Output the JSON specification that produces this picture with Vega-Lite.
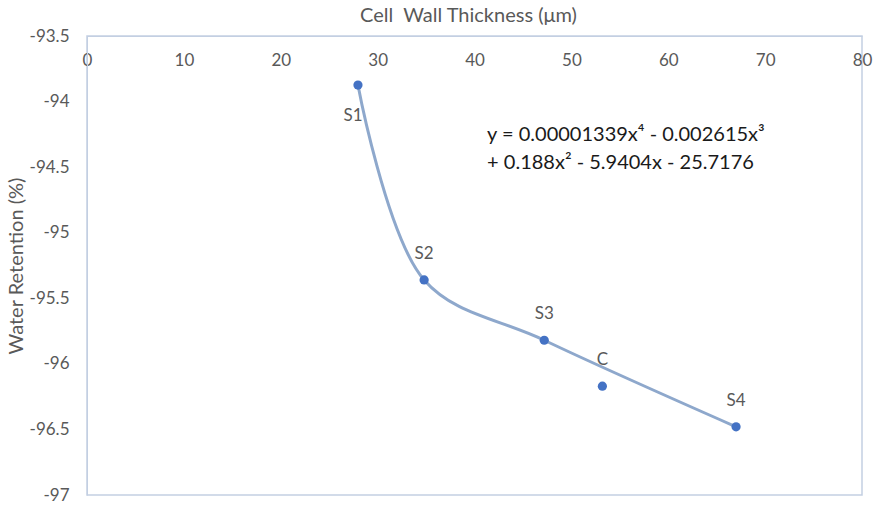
{
  "$schema": "https://vega.github.io/schema/vega-lite/v6.json",
  "width": 775,
  "height": 459,
  "autosize": {"type": "none"},
  "padding": {"left": 87, "top": 36, "right": 16, "bottom": 10},
  "background": "white",
  "config": {
    "font": "Lato",
    "view": {"stroke": "#c3cfe2", "strokeWidth": 1.5}
  },
  "datasets": {
    "pts": [
      {"sample": "S1", "thickness": 27.97, "retention": -93.874},
      {"sample": "S2", "thickness": 34.8, "retention": -95.36},
      {"sample": "S3", "thickness": 47.2, "retention": -95.82},
      {"sample": "C", "thickness": 53.2, "retention": -96.17},
      {"sample": "S4", "thickness": 67.0, "retention": -96.48}
    ],
    "eq": [
      {"thickness": 41.3, "retention": -94.255, "label": "y = 0.00001339x⁴ - 0.002615x³"},
      {"thickness": 41.3, "retention": -94.47, "label": "+ 0.188x² - 5.9404x - 25.7176"}
    ]
  },
  "layer": [
    {
      "data": {"name": "pts"},
      "transform": [{"filter": "datum.sample !== 'C'"}],
      "mark": {"type": "line", "interpolate": "catmull-rom", "color": "#8ea8cc", "strokeWidth": 3},
      "encoding": {
        "x": {
          "field": "thickness", "type": "quantitative",
          "scale": {"domain": [0, 80], "nice": false},
          "axis": {
            "orient": "top", "values": [0, 10, 20, 30, 40, 50, 60, 70, 80],
            "title": "Cell\u00a0 Wall Thickness (μm)", "titleFontSize": 20, "titleFontWeight": "normal",
            "titleColor": "#595959", "titleY": -11, "titleX": 381,
            "labelColor": "#595959", "labelFontSize": 17, "labelPadding": -33,
            "ticks": false, "grid": false, "domainColor": "#c3cfe2", "labelFlush": false
          }
        },
        "y": {
          "field": "retention", "type": "quantitative",
          "scale": {"domain": [-97, -93.5], "nice": false, "zero": false},
          "axis": {
            "values": [-97, -96.5, -96, -95.5, -95, -94.5, -94, -93.5],
            "labelExpr": "toString(datum.value)",
            "title": "Water Retention (%)", "titleFontSize": 20, "titleFontWeight": "normal",
            "titleColor": "#595959", "titlePadding": 3,
            "labelColor": "#595959", "labelFontSize": 17, "labelPadding": 18,
            "ticks": false, "grid": false, "domainColor": "#c3cfe2", "labelFlush": false
          }
        },
        "order": {"field": "thickness", "type": "quantitative"}
      }
    },
    {
      "data": {"name": "pts"},
      "mark": {"type": "circle", "size": 85, "color": "#4472c4", "opacity": 1},
      "encoding": {
        "x": {"field": "thickness", "type": "quantitative"},
        "y": {"field": "retention", "type": "quantitative"}
      }
    },
    {
      "data": {"name": "pts"},
      "transform": [{"filter": "datum.sample === 'S1'"}],
      "mark": {"type": "text", "fontSize": 17, "color": "#595959", "dy": 31, "dx": -5},
      "encoding": {
        "x": {"field": "thickness", "type": "quantitative"},
        "y": {"field": "retention", "type": "quantitative"},
        "text": {"field": "sample"}
      }
    },
    {
      "data": {"name": "pts"},
      "transform": [{"filter": "datum.sample !== 'S1'"}],
      "mark": {"type": "text", "fontSize": 17, "color": "#595959", "dy": -26},
      "encoding": {
        "x": {"field": "thickness", "type": "quantitative"},
        "y": {"field": "retention", "type": "quantitative"},
        "text": {"field": "sample"}
      }
    },
    {
      "data": {"name": "eq"},
      "mark": {"type": "text", "fontSize": 20, "color": "#1a1a1a", "align": "left"},
      "encoding": {
        "x": {"field": "thickness", "type": "quantitative"},
        "y": {"field": "retention", "type": "quantitative"},
        "text": {"field": "label"}
      }
    }
  ]
}
